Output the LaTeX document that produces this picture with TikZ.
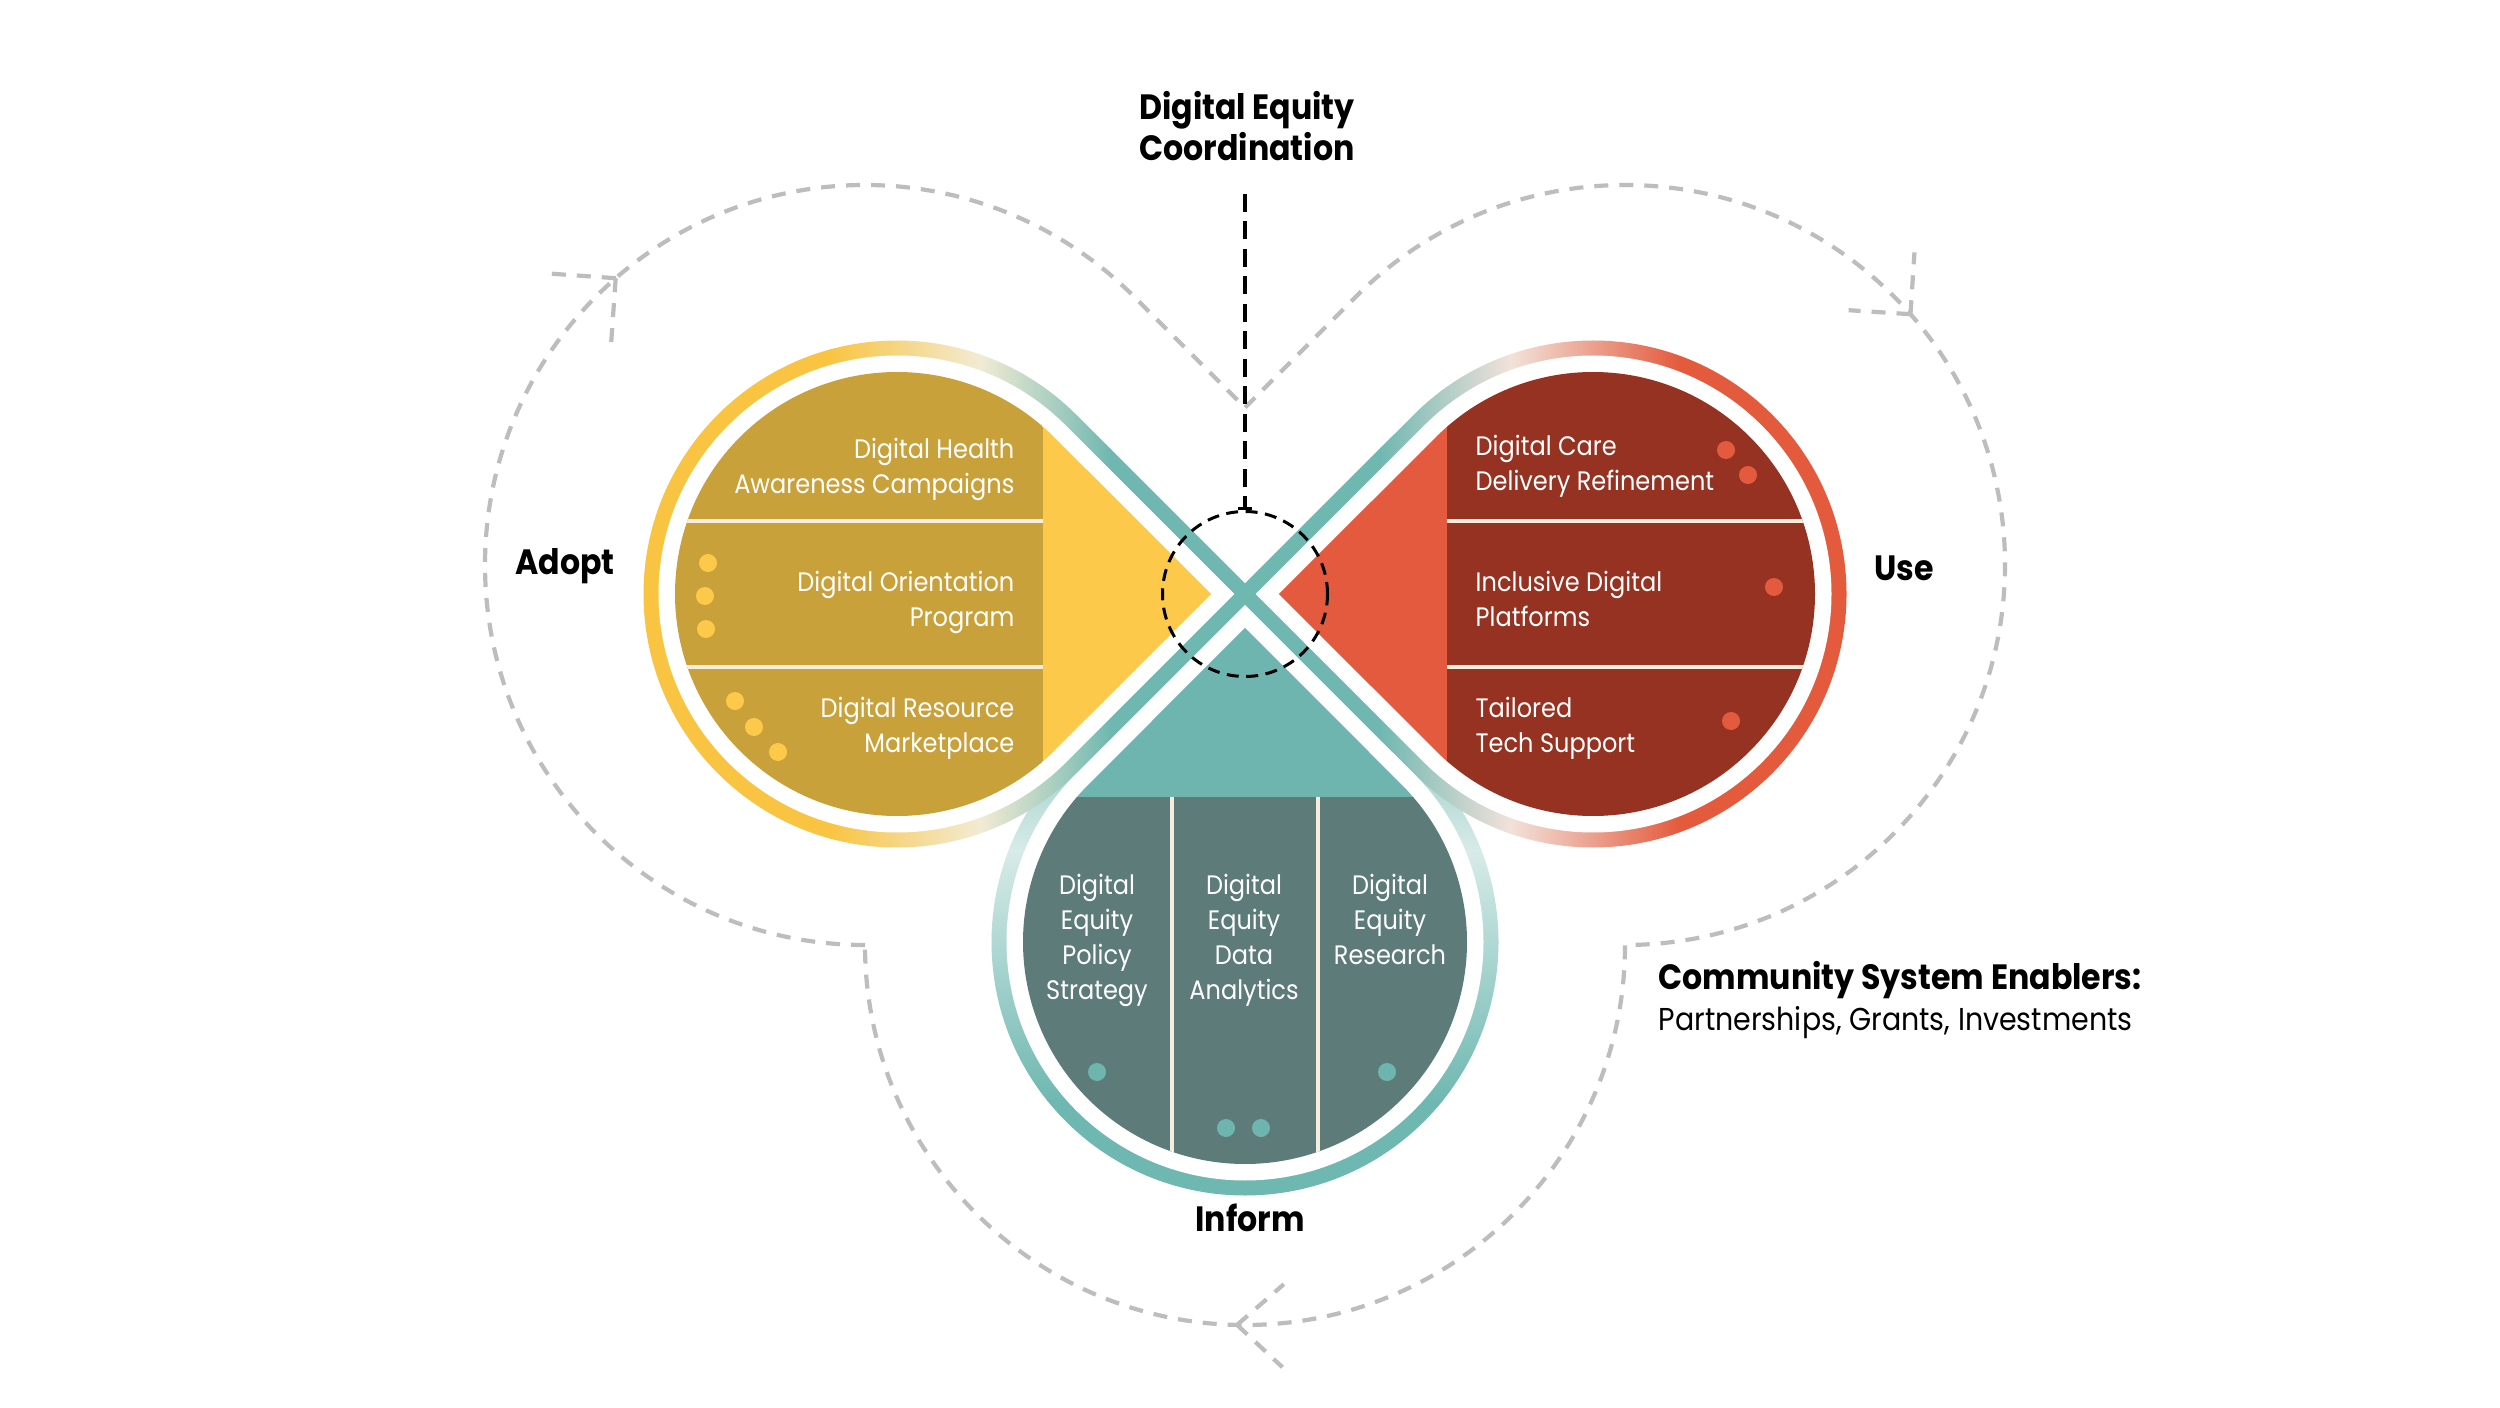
\documentclass[tikz,border=0pt]{standalone}
\usepackage{fontspec}
\setmainfont{Poppins}[FakeStretch=0.9]
\usetikzlibrary{arrows.meta}
\usetikzlibrary{calc}
\definecolor{ringyellow}{HTML}{F9C441}
\definecolor{ringred}{HTML}{E35A3C}
\definecolor{ringteal}{HTML}{6FB8B1}
\definecolor{paleyellow}{HTML}{F2EBD4}
\definecolor{palered}{HTML}{F2E2DA}
\definecolor{paleteal}{HTML}{D7EBE8}
\definecolor{adoptdark}{HTML}{C9A13B}
\definecolor{adoptlight}{HTML}{FCC94A}
\definecolor{usedark}{HTML}{963222}
\definecolor{uselight}{HTML}{E45A3E}
\definecolor{informdark}{HTML}{5C7B79}
\definecolor{informlight}{HTML}{6FB5AF}
\definecolor{splitcream}{HTML}{F5EDDD}
\definecolor{loopgray}{HTML}{BDBDBD}
\begin{document}
\begin{tikzpicture}
[x=0.1mm,y=-0.1mm,%
  splitline/.style={draw=splitcream,line width=0.4mm},%
  loopline/.style={draw=loopgray,line width=0.42mm,dash pattern=on 1.4mm off 1.1mm},%
  hubline/.style={draw=black,line width=0.34mm},%
  whitelabel/.style={text=white,inner sep=0pt,font=\fontsize{7.6}{10}\selectfont},%
  phase/.style={inner sep=0pt,font=\bfseries\fontsize{10}{11.8}\selectfont}]
\useasboundingbox (0,0) rectangle (2500,1408);
\fill[white] (0,0) rectangle (2500,1408);
\coordinate (O) at (1245,594);
\coordinate (L) at (897,594);
\coordinate (R) at (1593,594);
\coordinate (B) at (1245,942);
%% dashed cycle round the lobes
\coordinate (adoptloop) at (865,565);
\coordinate (useloop) at (1625,565);
\coordinate (informloop) at (1245,945);
\draw[loopline] ($(adoptloop)+(90:380)$)
  arc[start angle=90,end angle=315,radius=380]
  -- (1245,407.6)
  -- ($(useloop)+(225:380)$)
  arc[start angle=225,end angle=450,radius=380]
  arc[start angle=0,end angle=180,radius=380];
\coordinate (tipadopt) at ($(adoptloop)+(229:380)$);
\coordinate (tipuse) at ($(useloop)+(318.7:380)$);
\coordinate (tipinform) at ($(informloop)+(91.2:380)$);
\draw[loopline] (tipadopt) -- ++(94:65) (tipadopt) -- ++(184:65);
\draw[loopline] (tipuse) -- ++(183.7:62) (tipuse) -- ++(273.7:62);
\draw[loopline] (tipinform) -- ++(-41:62) (tipinform) -- ++(43:62);
%% Inform lobe
\begin{scope}
  \clip (1245,583.4) -- ($(B)+(-45:253.5)$) arc[start angle=-45,end angle=225,radius=253.5] -- cycle;
  \fill[ringteal] (900,500) rectangle (1600,661);
  \shade[top color=ringteal,bottom color=paleteal] (900,660) rectangle (1600,851);
  \shade[top color=paleteal,bottom color=ringteal] (900,850) rectangle (1600,1101);
  \fill[ringteal] (900,1100) rectangle (1600,1250);
\end{scope}
\fill[white] (1245,604.6) -- ($(B)+(-45:238.5)$) arc[start angle=-45,end angle=225,radius=238.5] -- cycle;
\begin{scope}
  \clip (1245,627.9) -- ($(B)+(-45:222)$) arc[start angle=-45,end angle=225,radius=222] -- cycle;
  \fill[informlight] (900,500) rectangle (1600,797);
  \fill[informdark] (900,797) rectangle (1600,1250);
  \draw[splitline] (1172,797) -- (1172,1250) (1318,797) -- (1318,1250);
\end{scope}
\foreach \px/\py in {1097/1072, 1226/1128, 1261/1128, 1387/1072}
  \fill[informlight] (\px,\py) circle[radius=9];
\node[whitelabel,anchor=north,align=center] (policy) at (1097,873) {Digital\\Equity\\Policy\\Strategy};
\node[whitelabel,anchor=north,align=center] (analytics) at (1244,873) {Digital\\Equity\\Data\\Analytics};
\node[whitelabel,anchor=north,align=center] (research) at (1390,873) {Digital\\Equity\\Research};
%% Adopt lobe
\begin{scope}
  \clip (1255.6,594) -- ($(L)+(-45:253.5)$) arc[start angle=-45,end angle=-315,radius=253.5] -- cycle;
  \fill[ringyellow] (600,300) rectangle (831,900);
  \shade[left color=ringyellow,right color=paleyellow] (830,300) rectangle (981,900);
  \shade[left color=paleyellow,right color=ringteal] (980,300) rectangle (1111,900);
  \fill[ringteal] (1110,300) rectangle (1300,900);
\end{scope}
\fill[white] (1234.4,594) -- ($(L)+(-45:238.5)$) arc[start angle=-45,end angle=-315,radius=238.5] -- cycle;
\begin{scope}
  \clip (1211.1,594) -- ($(L)+(-45:222)$) arc[start angle=-45,end angle=-315,radius=222] -- cycle;
  \fill[adoptdark] (600,300) rectangle (1043,900);
  \fill[adoptlight] (1043,300) rectangle (1300,900);
  \draw[splitline] (600,521.5) -- (1043,521.5) (600,666.5) -- (1043,666.5);
\end{scope}
\foreach \px/\py in {708/563, 705/596, 706/629, 735/701, 754/727, 778/752}
  \fill[adoptlight] (\px,\py) circle[radius=9];
\node[whitelabel,anchor=north east,align=right] (health) at (1015,437) {Digital Health\\Awareness Campaigns};
\node[whitelabel,anchor=north east,align=right] (orient) at (1015,570) {Digital Orientation\\Program};
\node[whitelabel,anchor=north east,align=right] (market) at (1015,696) {Digital Resource\\Marketplace};
%% Use lobe
\begin{scope}
  \clip (1234.4,594) -- ($(R)+(225:253.5)$) arc[start angle=225,end angle=495,radius=253.5] -- cycle;
  \fill[ringteal] (1200,300) rectangle (1381,900);
  \shade[left color=ringteal,right color=palered] (1380,300) rectangle (1511,900);
  \shade[left color=palered,right color=ringred] (1510,300) rectangle (1681,900);
  \fill[ringred] (1680,300) rectangle (1900,900);
\end{scope}
\fill[white] (1255.6,594) -- ($(R)+(225:238.5)$) arc[start angle=225,end angle=495,radius=238.5] -- cycle;
\begin{scope}
  \clip (1278.9,594) -- ($(R)+(225:222)$) arc[start angle=225,end angle=495,radius=222] -- cycle;
  \fill[uselight] (1200,300) rectangle (1447,900);
  \fill[usedark] (1447,300) rectangle (1900,900);
  \draw[splitline] (1447,521.5) -- (1900,521.5) (1447,666.5) -- (1900,666.5);
\end{scope}
\foreach \px/\py in {1726/450, 1748/475, 1774/587, 1731/721}
  \fill[uselight] (\px,\py) circle[radius=9];
\node[whitelabel,anchor=north west,align=left] (care) at (1475,434) {Digital Care\\Delivery Refinement};
\node[whitelabel,anchor=north west,align=left] (platforms) at (1475,570) {Inclusive Digital\\Platforms};
\node[whitelabel,anchor=north west,align=left] (support) at (1475,696) {Tailored\\Tech Support};
%% coordination hub
\node[circle,draw,line width=0.3mm,dash pattern=on 1.2mm off 0.75mm,minimum size=16.5mm,inner sep=0pt] (hub) at (O) {};
\node[phase,align=center] (coord) at (1247,126) {Digital Equity\\Coordination};
\coordinate (coordfoot) at (1245,194);
\draw[hubline,dash pattern=on 1.8mm off 0.95mm,-{Bar[width=1.4mm]}] (coordfoot) -- (hub.north);
%% phase names
\node[phase] (adopt) at (565,566) {Adopt};
\node[phase] (use) at (1904,568) {Use};
\node[phase] (inform) at (1250,1218) {Inform};
\node[anchor=west,align=left,inner sep=0pt,font=\fontsize{9}{11.8}\selectfont] (enablers) at (1658,1000)
  {{\fontsize{10}{11.8}\selectfont\bfseries Community System Enablers:}\\Partnerships, Grants, Investments};
\end{tikzpicture}
\end{document}
